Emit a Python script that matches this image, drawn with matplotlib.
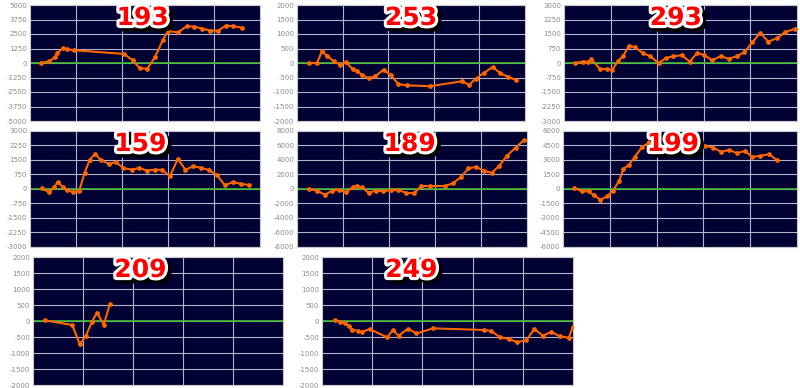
"""Eight small slump-graph panels on a dark navy plot area."""

import matplotlib
matplotlib.use("Agg")
import matplotlib.pyplot as plt
import matplotlib.patheffects as pe

# machine numbers (panel titles)
labels = ["193", "253", "293", "159", "189", "199", "209", "249"]

# y-axis limits per panel
ylims = [5000, 2000, 3000, 3000, 8000, 6000, 2000, 2000]

# x positions (0..100 across the plot) and values per panel
x193 = [4.8, 8.4, 10.9, 11.9, 14.2, 16.2, 19.1, 41.0, 44.6, 47.8, 51.0, 54.3,
        57.7, 59.9, 64.5, 68.1, 71.4, 74.9, 78.3, 81.9, 85.2, 88.4, 92.0]
y193 = [0, 150, 520, 860, 1270, 1180, 1100, 780, 230, -460, -490, 490,
        1960, 2740, 2650, 3170, 3140, 2970, 2800, 2800, 3230, 3170, 3050]

x253 = [5.1, 8.8, 10.9, 13.1, 16.1, 19.0, 21.5, 24.4, 26.3, 28.5, 31.4, 34.3,
        38.0, 41.2, 44.5, 48.2, 58.4, 72.3, 75.5, 78.4, 81.8, 85.8, 89.1,
        92.7, 96.1]
y253 = [0, 0, 400, 250, 60, -60, 30, -210, -290, -400, -530, -460,
        -230, -430, -730, -770, -800, -630, -750, -540, -350, -140, -350,
        -480, -590]

x293 = [4.6, 8.2, 10.4, 11.8, 15.4, 18.3, 20.7, 23.3, 25.5, 27.9, 30.5, 33.8,
        37.0, 40.6, 43.9, 46.8, 50.6, 54.0, 57.1, 60.3, 63.6, 67.2, 70.8,
        74.1, 77.3, 80.9, 84.2, 87.6, 91.4, 94.8, 99.3]
y293 = [0, 70, 70, 200, -310, -310, -350, 120, 380, 900, 810, 520,
        350, 0, 260, 350, 400, 70, 520, 400, 140, 350, 220,
        350, 550, 1070, 1560, 1110, 1280, 1590, 1780]

x159 = [5.1, 8.4, 10.5, 12.0, 14.2, 16.3, 18.8, 21.4, 23.7, 26.0, 28.3, 30.8,
        34.4, 37.3, 40.5, 44.2, 47.4, 51.0, 54.3, 57.5, 60.8, 64.3, 67.6,
        71.0, 74.4, 77.7, 81.4, 84.7, 88.3, 91.9, 95.1]
y159 = [35, -170, 90, 360, 100, -70, -160, -100, 830, 1520, 1820, 1490,
        1300, 1400, 1090, 1000, 1090, 950, 1000, 990, 660, 1560, 990,
        1180, 1090, 990, 710, 190, 360, 260, 210]

x189 = [5.2, 8.8, 12.1, 15.3, 18.1, 21.3, 24.2, 26.0, 28.2, 31.1, 34.4, 37.6,
        40.9, 44.0, 47.6, 50.9, 54.1, 57.7, 64.2, 67.8, 71.1, 74.5, 77.8,
        81.2, 84.7, 88.0, 91.2, 95.1, 98.7]
y189 = [0, -230, -780, -230, -90, -460, 230, 460, 230, -500, -230, -270,
        -180, -140, -550, -550, 410, 410, 410, 780, 1600, 2830, 3060,
        2510, 2240, 3200, 4570, 5710, 6760]

x199 = [4.9, 8.1, 11.0, 13.1, 16.0, 18.9, 21.3, 23.9, 25.8, 28.2, 30.8, 33.7,
        36.9, 39.8, 43.4, 47.7, 52.0, 56.3, 60.7, 64.3, 67.6, 71.0, 74.4,
        77.7, 80.8, 84.4, 88.0, 91.6]
y199 = [100, -240, -240, -650, -1100, -750, -170, 790, 2060, 2500, 3360, 4320,
        4830, 5000, 5050, 4900, 4700, 4550, 4460, 4290, 3840, 4050, 3700,
        3940, 3330, 3430, 3600, 2950]

x209 = [4.7, 15.7, 18.7, 21.1, 23.6, 25.6, 28.3, 30.7]
y209 = [20, -125, -720, -470, -20, 260, -115, 520]

x249 = [5.0, 7.0, 9.0, 10.9, 12.0, 14.2, 15.9, 19.0, 25.9, 28.3, 30.5, 34.3,
        37.6, 44.2, 64.4, 67.3, 71.0, 74.6, 77.7, 81.4, 84.6, 88.0, 91.4,
        94.7, 98.3, 100.0]
y249 = [30, -20, -70, -160, -280, -300, -340, -250, -510, -280, -460, -240,
        -390, -230, -280, -310, -510, -560, -660, -600, -250, -460, -340,
        -480, -520, -180]

xs = [x193, x253, x293, x159, x189, x199, x209, x249]
ys = [y193, y253, y293, y159, y189, y199, y209, y249]

# panel rectangles in screenshot pixels: left, top, right, bottom
boxes = [(30, 5, 260, 121), (297, 5, 525, 121), (564, 5, 797, 121),
         (30, 131, 260, 247), (297, 131, 527, 247), (563, 131, 797, 247),
         (33, 257, 283, 385), (322, 257, 573, 385)]
label_x = [0.49, 0.50, 0.48, 0.48, 0.49, 0.47, 0.43, 0.356]

W, H = 800, 388
fig = plt.figure(figsize=(W / 100, H / 100), dpi=100)
fig.patch.set_facecolor("white")

title_fx = [pe.Stroke(linewidth=4.5, foreground="black", offset=(2.5, -2.5)),
            pe.Stroke(linewidth=4.5, foreground="white"),
            pe.Normal()]

for i, (l, t, r, b) in enumerate(boxes):
    ax = fig.add_axes([l / W, 1 - b / H, (r - l) / W, (b - t) / H])
    ax.set_facecolor("#000033")
    lim = ylims[i]
    ax.set_xlim(0, 100)
    ax.set_ylim(-lim, lim)
    ax.set_xticks([20, 40, 60, 80])
    ax.set_xticklabels([])
    ax.set_yticks([lim * k / 4 for k in range(-4, 5)])
    ax.set_yticklabels([f"{int(v)}" for v in ax.get_yticks()])
    ax.tick_params(axis="both", length=0, labelsize=5, colors="#8c8c8c", pad=2)
    ax.grid(True, color="#b4b4c8", lw=0.8)
    ax.set_axisbelow(True)
    for s in ax.spines.values():
        s.set_color("#c8c8c8")
        s.set_linewidth(0.8)

    ax.axhline(0, color="#44bb33", lw=1.2, zorder=2)
    ax.plot(xs[i], ys[i], color="#ff6600", lw=1.5, marker="o", ms=2.4,
            zorder=3, clip_on=True)

    ax.text(label_x[i], 1 - 13 / (b - t), labels[i], transform=ax.transAxes,
            ha="center", va="center", fontsize=18, fontweight="bold",
            color="#ff0000", path_effects=title_fx, zorder=5)

fig.savefig("out.png", dpi=100)
